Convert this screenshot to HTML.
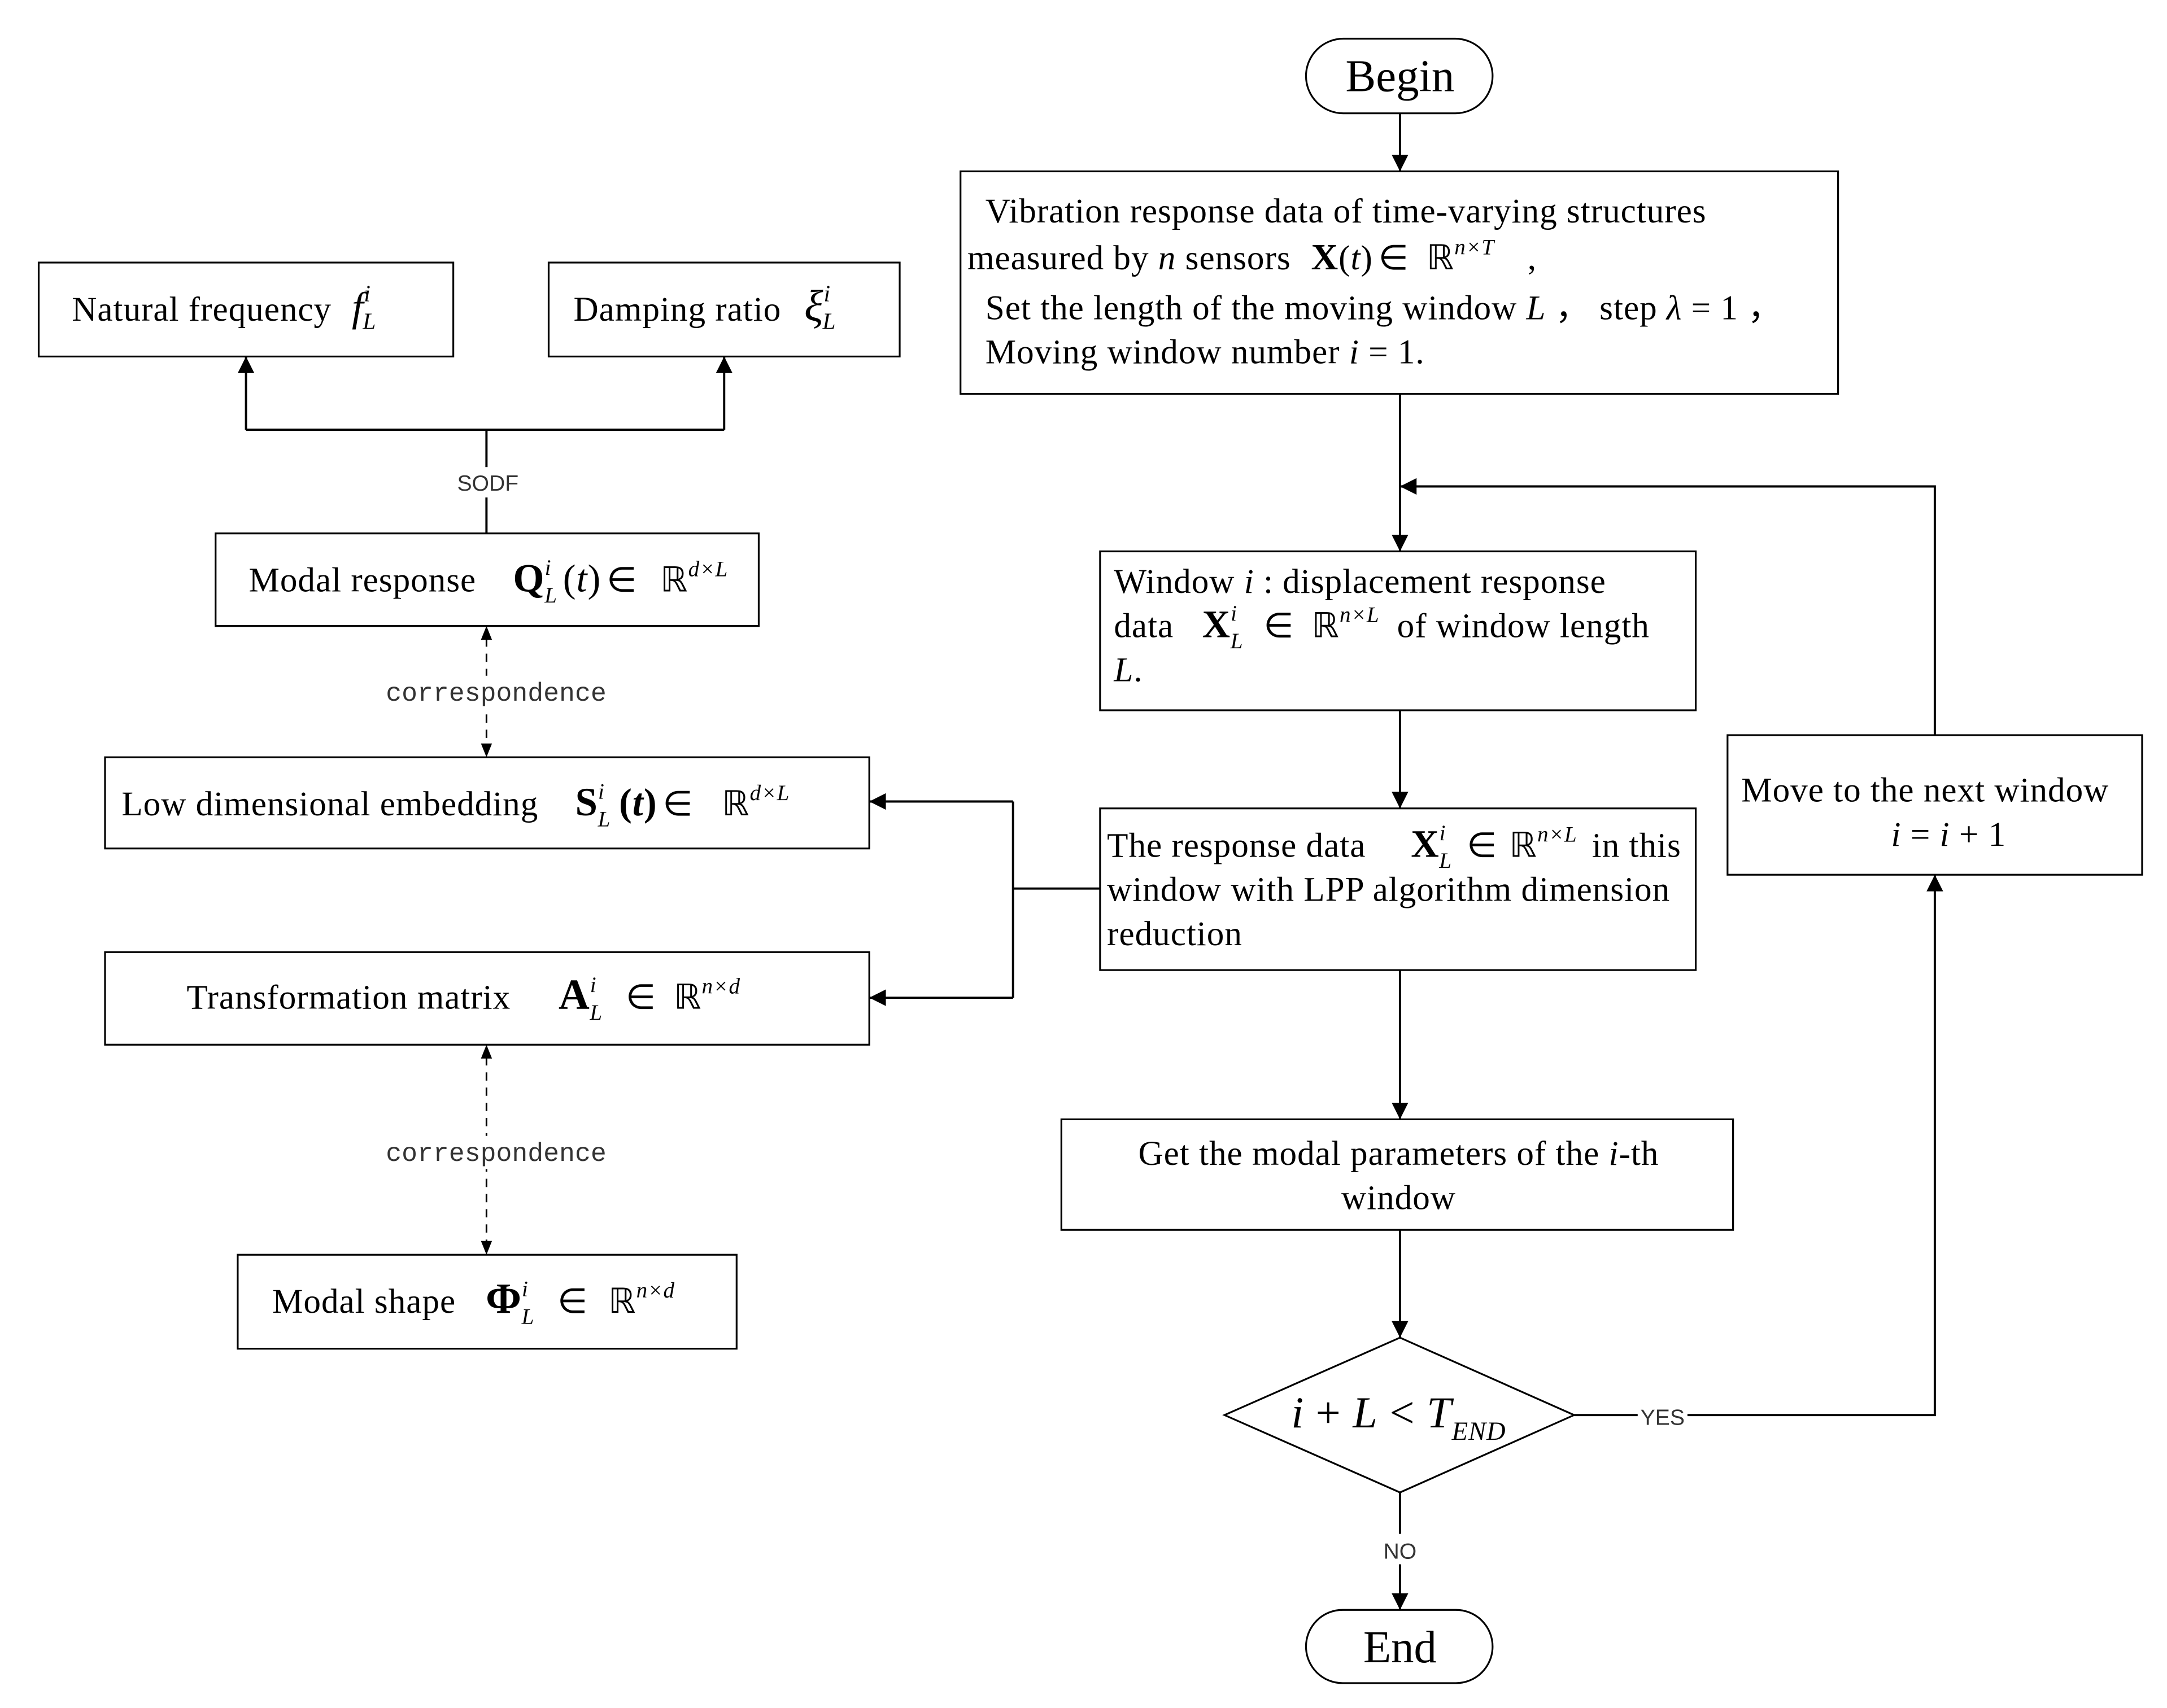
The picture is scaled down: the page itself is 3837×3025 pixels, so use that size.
<!DOCTYPE html>
<html><head><meta charset="utf-8"><style>
html,body{margin:0;padding:0;background:#fff;}
svg{display:block;}
text{font-family:"Liberation Serif",serif;fill:#000;}
.m{font-family:"Liberation Mono",monospace;font-size:19px;fill:#333;}
.s{font-family:"Liberation Sans",sans-serif;font-size:16px;fill:#333;}
.t{font-size:25px;letter-spacing:0.4px;}
</style></head><body>
<svg width="3837" height="3025" viewBox="0 0 1568 1236" preserveAspectRatio="none" xmlns="http://www.w3.org/2000/svg">
<defs>
<marker id="b" viewBox="0 0 10 10" refX="10" refY="5" markerWidth="14" markerHeight="12" markerUnits="userSpaceOnUse" orient="auto"><path d="M0,0 L10,5 L0,10 z" fill="#000"/></marker>
</defs>
<g fill="none" stroke="#000" stroke-width="1.3">
<rect x="945" y="28" width="135" height="54" rx="27"/>
<rect x="695" y="124" width="635" height="161"/>
<rect x="796" y="399" width="431" height="115"/>
<rect x="796" y="585" width="431" height="117"/>
<rect x="768" y="810" width="486" height="80"/>
<polygon points="886,1024 1013,968 1139,1024 1013,1080"/>
<rect x="1250" y="532" width="300" height="101"/>
<rect x="945" y="1165" width="135" height="53" rx="26.5"/>
<rect x="28" y="190" width="300" height="68"/>
<rect x="397" y="190" width="254" height="68"/>
<rect x="156" y="386" width="393" height="67"/>
<rect x="76" y="548" width="553" height="66"/>
<rect x="76" y="689" width="553" height="67"/>
<rect x="172" y="908" width="361" height="68"/>
</g>
<g fill="none" stroke="#000" stroke-width="1.6">
<line x1="1013" y1="82" x2="1013" y2="124" marker-end="url(#b)"/>
<line x1="1013" y1="285" x2="1013" y2="399" marker-end="url(#b)"/>
<polyline points="1400,532 1400,352 1013,352" marker-end="url(#b)"/>
<line x1="1013" y1="514" x2="1013" y2="585" marker-end="url(#b)"/>
<line x1="1013" y1="702" x2="1013" y2="810" marker-end="url(#b)"/>
<line x1="1013" y1="890" x2="1013" y2="968" marker-end="url(#b)"/>
<polyline points="1139,1024 1400,1024 1400,633" marker-end="url(#b)"/>
<line x1="1013" y1="1080" x2="1013" y2="1165" marker-end="url(#b)"/>
<line x1="796" y1="643" x2="733" y2="643"/>
<polyline points="733,580 733,722"/>
<line x1="733" y1="580" x2="629" y2="580" marker-end="url(#b)"/>
<line x1="733" y1="722" x2="629" y2="722" marker-end="url(#b)"/>
<line x1="352" y1="386" x2="352" y2="311"/>
<polyline points="178,311 524,311"/>
<line x1="178" y1="311" x2="178" y2="258" marker-end="url(#b)"/>
<line x1="524" y1="311" x2="524" y2="258" marker-end="url(#b)"/>
</g>
<g fill="none" stroke="#000" stroke-width="1.2" stroke-dasharray="6,5">
<line x1="352" y1="462" x2="352" y2="539"/>
<line x1="352" y1="765" x2="352" y2="899"/>
</g>
<g fill="#000">
<path d="M352,453 l-4,10 l8,0 z"/><path d="M352,548 l-4,-10 l8,0 z"/>
<path d="M352,756 l-4,10 l8,0 z"/><path d="M352,908 l-4,-10 l8,0 z"/>
</g>
<rect x="330" y="338" width="46" height="22" fill="#fff"/>
<text class="s" x="353" y="355" text-anchor="middle">SODF</text>
<rect x="278" y="489" width="162" height="24" fill="#fff"/>
<text class="m" x="359" y="507" text-anchor="middle">correspondence</text>
<rect x="278" y="822" width="162" height="24" fill="#fff"/>
<text class="m" x="359" y="840" text-anchor="middle">correspondence</text>
<rect x="1185" y="1013" width="36" height="22" fill="#fff"/>
<text class="s" x="1203" y="1031" text-anchor="middle">YES</text>
<rect x="1000" y="1110" width="27" height="22" fill="#fff"/>
<text class="s" x="1013" y="1128" text-anchor="middle">NO</text>

<text x="1013" y="66" font-size="33" text-anchor="middle">Begin</text>
<text x="1013" y="1203" font-size="33" text-anchor="middle">End</text>

<g class="t">
<text x="713" y="161">Vibration response data of time-varying structures</text>
<text x="700" y="195">measured by <tspan font-style="italic">n</tspan> sensors  <tspan dx="8" font-weight="bold" font-size="27">X</tspan>(<tspan font-style="italic">t</tspan>)<tspan dx="4">∈ </tspan><tspan dx="6">ℝ</tspan><tspan font-size="16" dy="-11" font-style="italic">n×T</tspan><tspan dx="24" dy="11">,</tspan></text>
<text x="713" y="231">Set the length of the moving window <tspan font-style="italic">L</tspan> ，  step <tspan font-style="italic">λ</tspan> = 1    ，</text>
<text x="713" y="263">Moving window number <tspan font-style="italic">i</tspan> = 1.</text>

<text x="806" y="429">Window <tspan font-style="italic">i</tspan> : displacement response</text>
<text x="806" y="461">data   <tspan dx="14" font-weight="bold" font-size="28">X</tspan><tspan font-size="16" font-style="italic" dy="-12">i</tspan><tspan font-size="16" font-style="italic" dx="-5" dy="20">L</tspan><tspan dx="8" dy="-8"> ∈ </tspan><tspan dx="6">ℝ</tspan><tspan font-size="16" font-style="italic" dy="-11">n×L</tspan><tspan dx="6" dy="11"> of window length</tspan></text>
<text x="806" y="493"><tspan font-style="italic">L</tspan>.</text>

<text x="801" y="620">The response data   <tspan dx="26" font-weight="bold" font-size="28">X</tspan><tspan font-size="16" font-style="italic" dy="-12">i</tspan><tspan font-size="16" font-style="italic" dx="-5" dy="20">L</tspan><tspan dx="4" dy="-8"> ∈ </tspan><tspan dx="2">ℝ</tspan><tspan font-size="16" font-style="italic" dy="-11">n×L</tspan><tspan dx="4" dy="11"> in  this</tspan></text>
<text x="801" y="652">window with LPP algorithm dimension</text>
<text x="801" y="684">reduction</text>

<text x="1012" y="843" text-anchor="middle">Get the modal parameters of the <tspan font-style="italic">i</tspan>-th</text>
<text x="1012" y="875" text-anchor="middle">window</text>

<text x="1393" y="580" text-anchor="middle">Move to the next window</text>
<text x="1410" y="612" text-anchor="middle"><tspan font-style="italic">i</tspan> = <tspan font-style="italic">i</tspan> + 1</text>

<text x="52" y="232">Natural frequency   <tspan dx="8" font-style="italic" font-size="30">f</tspan><tspan font-size="17" font-style="italic" dy="-14">i</tspan><tspan font-size="17" font-style="italic" dx="-6" dy="20">L</tspan></text>
<text x="415" y="232">Damping ratio   <tspan dx="10" font-style="italic" font-size="32">ξ</tspan><tspan font-size="17" font-style="italic" dy="-14">i</tspan><tspan font-size="17" font-style="italic" dx="-6" dy="20">L</tspan></text>

<text x="180" y="428">Modal response   <tspan dx="20" font-weight="bold" font-size="29">Q</tspan><tspan font-size="16" font-style="italic" dy="-12">i</tspan><tspan font-size="16" font-style="italic" dx="-5" dy="20">L</tspan><tspan dx="4" dy="-8" font-size="28">(<tspan font-style="italic">t</tspan>)</tspan><tspan dx="4">∈ </tspan><tspan dx="10">ℝ</tspan><tspan font-size="16" font-style="italic" dy="-11">d×L</tspan></text>
<text x="88" y="590">Low dimensional embedding   <tspan dx="20" font-weight="bold" font-size="29">S</tspan><tspan font-size="16" font-style="italic" dy="-12">i</tspan><tspan font-size="16" font-style="italic" dx="-5" dy="20">L</tspan><tspan dx="6" dy="-8" font-size="28" font-weight="bold">(<tspan font-style="italic">t</tspan>)</tspan><tspan dx="4">∈ </tspan><tspan dx="14">ℝ</tspan><tspan font-size="16" font-style="italic" dy="-11">d×L</tspan></text>
<text x="135" y="730">Transformation matrix     <tspan dx="28" font-weight="bold" font-size="31">A</tspan><tspan font-size="16" font-style="italic" dy="-12">i</tspan><tspan font-size="16" font-style="italic" dx="-5" dy="20">L</tspan><tspan dx="10" dy="-8"> ∈ </tspan><tspan dx="6">ℝ</tspan><tspan font-size="16" font-style="italic" dy="-11">n×d</tspan></text>
<text x="197" y="950">Modal shape   <tspan dx="15" font-weight="bold" font-size="31">Φ</tspan><tspan font-size="16" font-style="italic" dy="-12">i</tspan><tspan font-size="16" font-style="italic" dx="-5" dy="20">L</tspan><tspan dx="10" dy="-8"> ∈ </tspan><tspan dx="8">ℝ</tspan><tspan font-size="16" font-style="italic" dy="-11">n×d</tspan></text>

<text x="1012" y="1033" font-size="32" text-anchor="middle"><tspan font-style="italic">i</tspan> + <tspan font-style="italic">L</tspan> &lt; <tspan font-style="italic">T</tspan><tspan font-size="19" font-style="italic" dy="9">END</tspan></text>
</g>
</svg>
</body></html>
